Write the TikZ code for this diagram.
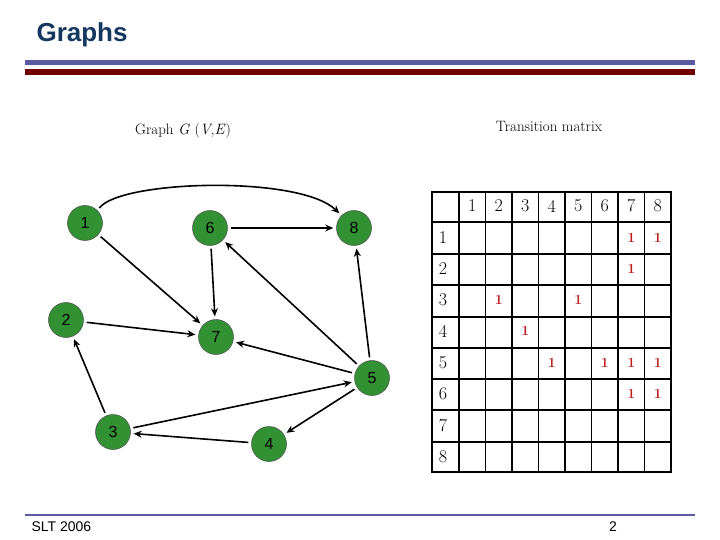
\documentclass[tikz,border=0pt]{standalone}
\usepackage{fontspec}
\setsansfont{Liberation Sans}
\usetikzlibrary{arrows.meta}
\definecolor{ttl}{RGB}{20,55,95}
\definecolor{blu}{RGB}{90,90,160}
\definecolor{drd}{RGB}{110,0,0}
\definecolor{gn}{RGB}{50,145,50}
\definecolor{mred}{RGB}{190,30,30}
\begin{document}
\begin{tikzpicture}[x=1pt,y=-1pt,
  v/.style={circle,fill=gn,draw=black!70,line width=0.5pt,minimum size=35pt,inner sep=0pt,font=\sffamily\fontsize{16}{16}\selectfont},
  e/.style={-{Stealth[length=8pt,width=7pt]},line width=1.6pt,shorten <=3pt,shorten >=3pt},
  hd/.style={font=\fontsize{18}{18}\selectfont},
  one/.style={font=\bfseries\fontsize{14}{14}\selectfont,text=mred}]
\useasboundingbox (0,0) rectangle (720,540);
\fill[white] (0,0) rectangle (720,540);
\node[font=\sffamily\bfseries\fontsize{26}{26}\selectfont,text=ttl,anchor=west] (title) at (33,35) {Graphs};
\fill[blu] (25,60) rectangle (695,65);
\fill[drd] (25,69) rectangle (695,75);
\fill[blu] (25,514) rectangle (695,516);
\node[font=\sffamily\fontsize{14}{14}\selectfont,anchor=west] (slt) at (28,527) {SLT 2006};
\node[font=\sffamily\fontsize{14}{14}\selectfont] (pg) at (613,527) {2};
\node[font=\fontsize{15}{15}\selectfont] (gl) at (183,131) {Graph \textit{G} (\textit{V},\textit{E})};
\node[font=\fontsize{15}{15}\selectfont] (tl) at (549,126) {Transition matrix};
% graph
\node[v] (n1) at (85,223) {1};
\node[v] (n6) at (210,228) {6};
\node[v] (n8) at (354,228) {8};
\node[v] (n2) at (66,320) {2};
\node[v] (n7) at (216,337) {7};
\node[v] (n5) at (372,378) {5};
\node[v] (n3) at (113,432) {3};
\node[v] (n4) at (269,444) {4};
\draw[e] (n1.north east) .. controls (120,180) and (300,175) .. (n8.north west);
\draw[e] (n1) -- (n7);
\draw[e] (n6) -- (n8);
\draw[e] (n6) -- (n7);
\draw[e] (n2) -- (n7);
\draw[e] (n3) -- (n2);
\draw[e] (n3) -- (n5);
\draw[e] (n4) -- (n3);
\draw[e] (n5) -- (n4);
\draw[e] (n5) -- (n7);
\draw[e] (n5) -- (n6);
\draw[e] (n5) -- (n8);
% matrix
\begin{scope}[line width=1.6pt]
\draw[line width=2.2pt] (432,192) rectangle (671,472);
\foreach \xx in {459,485.5,512,538.5,565,591.5,618,644.5} \draw (\xx,192) -- (\xx,472);
\foreach \yy in {222,254,285,317,348,379,410,442} \draw (432,\yy) -- (671,\yy);
\end{scope}
\foreach \c [count=\i] in {1,...,8} {
  \node[hd] (c\i) at ({459+26.5*(\i-0.5)},206) {\c};
  \node[hd] (r\i) at (443,{222+31.25*(\i-0.5)}) {\c};
}
\foreach \r/\c in {1/7,1/8,2/7,3/2,3/5,4/3,5/4,5/6,5/7,5/8,6/7,6/8}
  \node[one] (m\r\c) at ({459+26.5*(\c-0.5)},{222+31.25*(\r-0.5)}) {1};
\end{tikzpicture}
\end{document}
